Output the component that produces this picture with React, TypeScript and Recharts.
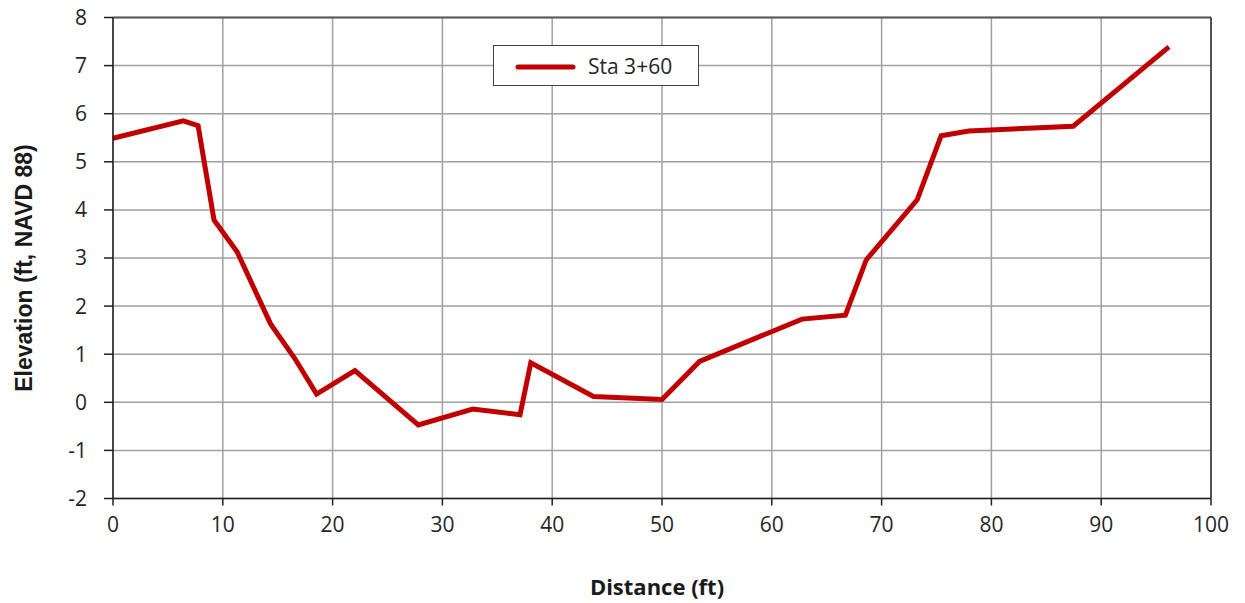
import React from "react";
import {
  LineChart,
  Line,
  XAxis,
  YAxis,
  CartesianGrid,
  ReferenceLine,
  Label,
} from "recharts";

const distance = [
  0, 6.4, 7.75, 9.2, 11.3, 14.35, 16.56, 18.54, 22.03, 27.8, 32.76, 37.07,
  38.05, 43.76, 50.0, 53.42, 62.75, 66.7, 68.6, 73.24, 75.42, 77.94, 87.45,
  96.17,
];
const elevation = [
  5.49, 5.85, 5.75, 3.79, 3.13, 1.63, 0.91, 0.17, 0.66, -0.47, -0.14, -0.26,
  0.82, 0.12, 0.06, 0.85, 1.73, 1.81, 2.96, 4.21, 5.54, 5.64, 5.74, 7.39,
];
const xTicks = [0, 10, 20, 30, 40, 50, 60, 70, 80, 90, 100];
const yTicks = [-2, -1, 0, 1, 2, 3, 4, 5, 6, 7, 8];
const seriesName = "Sta 3+60";
const xTitle = "Distance (ft)";
const yTitle = "Elevation (ft, NAVD 88)";

const data = distance.map((d, i) => ({ x: d, y: elevation[i] }));

const FONT = "'Open Sans', sans-serif";
const RED = "#C00000";

const LegendBox = () => (
  <div
    style={{
      position: "absolute",
      left: 493,
      top: 45,
      width: 206,
      height: 41,
      border: "1px solid #404040",
      background: "#fff",
      display: "flex",
      alignItems: "center",
      boxSizing: "border-box",
      fontFamily: FONT,
      fontSize: 21,
      color: "#262626",
    }}
  >
    <svg width={94} height={20} style={{ flex: "none" }}>
      <line x1={24} y1={11} x2={79} y2={11} stroke={RED} strokeWidth={5} strokeLinecap="round" />
    </svg>
    <span>{seriesName}</span>
  </div>
);

export default function App() {
  return (
    <div style={{ position: "absolute", left: 0, top: 0, width: 1245, height: 603 }}>
      <LineChart
        width={1245}
        height={603}
        data={data}
        margin={{ top: 17.5, right: 34, bottom: 54.5, left: 53 }}
      >
        <CartesianGrid stroke="#a0a0a0" strokeWidth={1.5} />
        <XAxis
          dataKey="x"
          type="number"
          domain={[0, 100]}
          ticks={xTicks}
          interval={0}
          height={50}
          tickSize={7}
          tickMargin={12}
          stroke="#202020"
          strokeWidth={1.5}
          tick={{ fill: "#262626", fontFamily: FONT, fontSize: 21 }}
        >
          <Label
            content={() => (
              <text
                x={657}
                y={595}
                textAnchor="middle"
                fontFamily={FONT}
                fontWeight="bold"
                fontSize={22}
                fill="#1a1a1a"
              >
                {xTitle}
              </text>
            )}
          />
        </XAxis>
        <YAxis
          type="number"
          domain={[-2, 8]}
          ticks={yTicks}
          interval={0}
          width={60}
          tickSize={9}
          tickMargin={17}
          stroke="#202020"
          strokeWidth={1.5}
          tick={{ fill: "#262626", fontFamily: FONT, fontSize: 21 }}
        >
          <Label
            content={() => (
              <text
                x={32}
                y={268}
                transform="rotate(-90 32 268)"
                textAnchor="middle"
                fontFamily="'Liberation Sans', Arial, sans-serif"
                fontWeight="bold"
                fontSize={23}
                fill="#1a1a1a"
              >
                {yTitle}
              </text>
            )}
          />
        </YAxis>
        <ReferenceLine y={8} stroke="#595959" strokeWidth={2} />
        <ReferenceLine x={100} stroke="#303030" strokeWidth={1.5} />
        <Line
          type="linear"
          dataKey="y"
          name={seriesName}
          stroke={RED}
          strokeWidth={5}
          dot={false}
          isAnimationActive={false}
        />
      </LineChart>
      <LegendBox />
    </div>
  );
}
